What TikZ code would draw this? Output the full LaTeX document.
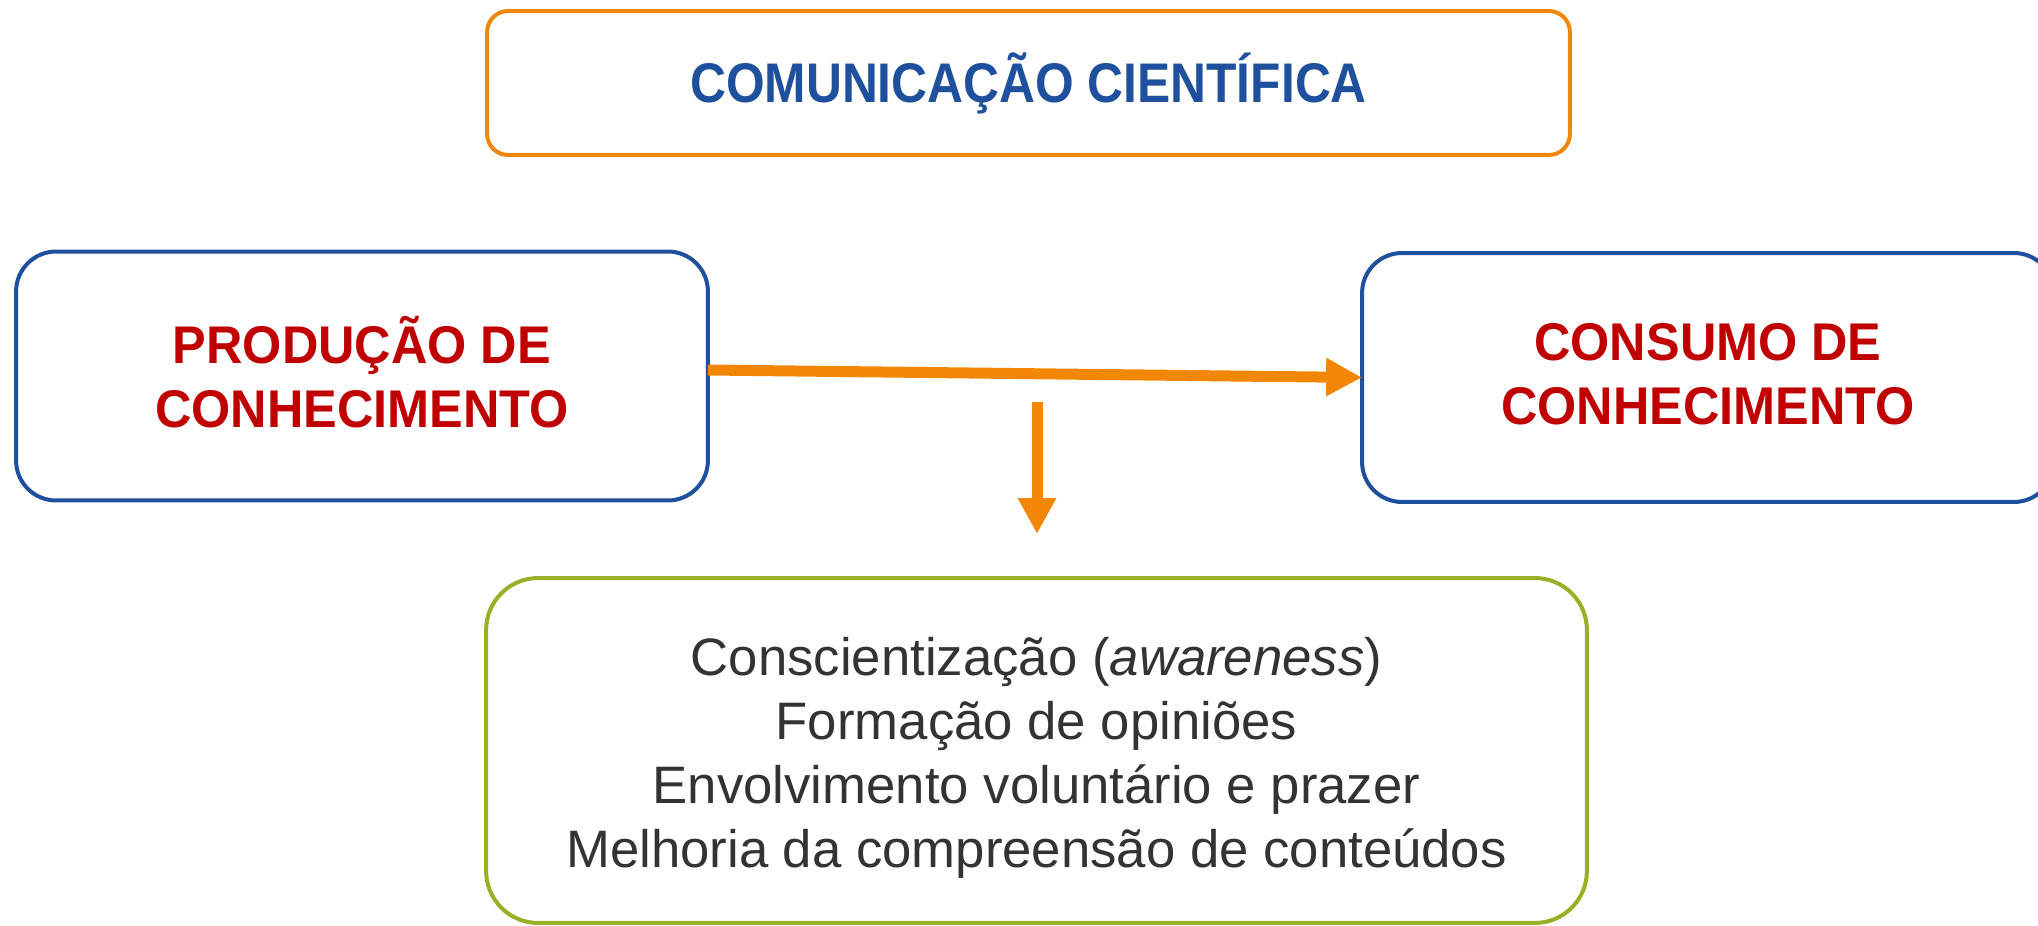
\documentclass[tikz,border=0pt]{standalone}
\usepackage{fontspec}
\setmainfont{Liberation Sans}
\newfontfamily\titlefont[FakeStretch=0.89]{Liberation Sans}
\newfontfamily\boxfont[FakeStretch=0.95]{Liberation Sans}
\usetikzlibrary{arrows.meta}
\definecolor{orangeline}{RGB}{242,135,5}
\definecolor{blueline}{RGB}{30,80,158}
\definecolor{redtext}{RGB}{192,0,0}
\definecolor{greenline}{RGB}{154,174,38}
\definecolor{graytext}{RGB}{51,51,51}

\begin{document}
\begin{tikzpicture}[x=0.02cm,y=-0.02cm]
\tikzset{box/.style = {shape=rectangle,draw,line width=0.08cm,inner sep=0pt,outer sep=0pt,align=center}}
\tikzset{edge/.style = {-{Triangle[length=0.72cm,width=0.72cm]},draw=orangeline,line width=0.22cm}}
\useasboundingbox (0,0) rectangle (2038,926);
% boxes
\node[box, draw=orangeline, rounded corners=0.42cm, minimum width=21.66cm, minimum height=2.88cm, text=blueline,
  font=\titlefont\bfseries\fontsize{31.8}{36.4}\selectfont] (com) at (1028.5,83) {COMUNICAÇÃO CIENTÍFICA};
\node[box, draw=blueline, rounded corners=0.8cm, minimum width=13.84cm, minimum height=4.98cm, text=redtext,
  font=\boxfont\bfseries\fontsize{30.2}{36.4}\selectfont] (prod) at (362,376) {PRODUÇÃO DE\\CONHECIMENTO\rule[-0.15cm]{0pt}{0.1cm}};
\node[box, draw=blueline, rounded corners=0.8cm, minimum width=13.84cm, minimum height=4.98cm, text=redtext,
  font=\boxfont\bfseries\fontsize{30.2}{36.4}\selectfont] (cons) at (1708,377.5) {CONSUMO DE\\CONHECIMENTO\rule[-0.15cm]{0pt}{0.1cm}};
\node[box, draw=greenline, rounded corners=1.04cm, minimum width=22.02cm, minimum height=6.9cm, text=graytext,
  font=\fontsize{30}{36.4}\selectfont] (efeitos) at (1036.5,750.5)
  {\rule{0pt}{1.05cm}Conscientização (\textit{awareness})\\Formação de opiniões\\Envolvimento voluntário e prazer\\Melhoria da compreensão de conteúdos};
% arrows
\coordinate (dtop) at (1037,402);
\coordinate (dtip) at (1037,534);
\draw[edge] ([yshift=0.12cm]prod.east) -- (cons.west);
\draw[edge] (dtop) -- (dtip);
\end{tikzpicture}
\end{document}
